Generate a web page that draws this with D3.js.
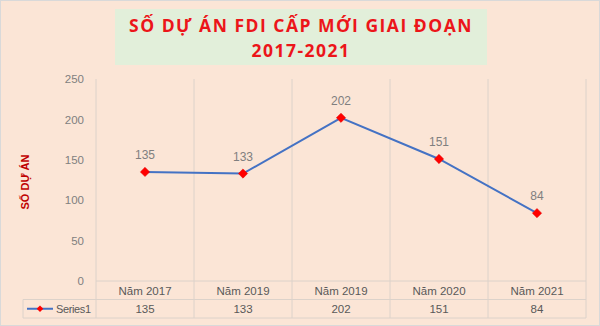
<!DOCTYPE html>
<html>
<head>
<meta charset="utf-8">
<script src="https://cdn.jsdelivr.net/npm/d3@7"></script>
<style>
  html, body { margin: 0; padding: 0; background: #fbe5d6; }
  svg { display: block; }
</style>
</head>
<body>
<script>
// Chart data
const categories = ["Năm 2017", "Năm 2019", "Năm 2019", "Năm 2020", "Năm 2021"];
const values = [135, 133, 202, 151, 84];
const yTicks = [0, 50, 100, 150, 200, 250];
const seriesName = "Series1";
const titleLines = ["SỐ DỰ ÁN FDI CẤP MỚI GIAI ĐOẠN", "2017-2021"];
const yTitle = "SỐ DỰ ÁN";

const W = 600, H = 326;
const plot = { left: 96, right: 586, top: 79, bottom: 281 };
const rowH = 18.5;
const legendLeft = 23;
const gridColor = "#dcd2ca";
const textGrey = "#7f7f7f";
const font = "'Liberation Sans', Arial, sans-serif";

const svg = d3.select("body").append("svg")
  .attr("width", W).attr("height", H)
  .style("font-family", font);

svg.append("rect").attr("x", 0.5).attr("y", 0.5).attr("width", W - 1).attr("height", H - 1)
  .attr("fill", "#fbe5d6").attr("stroke", "#d9d9d9");

// Title box
svg.append("rect").attr("x", 115).attr("y", 9).attr("width", 372).attr("height", 56)
  .attr("fill", "#e2efda");
const title = svg.append("text").attr("text-anchor", "middle")
  .attr("fill", "#ec1519").attr("font-weight", "bold")
  .attr("font-family", "'Open Sans', sans-serif").attr("font-size", 17.5)
  .style("letter-spacing", "1.5px");
titleLines.forEach((t, i) => {
  title.append("tspan").attr("x", 301).attr("y", 32 + i * 25).text(t);
});

// Scales
const x = d3.scaleBand().domain(d3.range(categories.length)).range([plot.left, plot.right]);
const y = d3.scaleLinear().domain([0, 250]).range([plot.bottom, plot.top]);

// Vertical grid lines (category boundaries), extended through the data table
const tableBottom = plot.bottom + 2 * rowH;
const bounds = d3.range(categories.length + 1).map(i => i < categories.length ? x(i) : plot.right);
svg.append("g").selectAll("line").data(bounds).join("line")
  .attr("x1", d => d).attr("x2", d => d)
  .attr("y1", plot.top).attr("y2", tableBottom)
  .attr("stroke", gridColor).attr("stroke-width", 1);

// Table horizontal rules
svg.append("line").attr("x1", plot.left).attr("x2", plot.right)
  .attr("y1", plot.bottom).attr("y2", plot.bottom).attr("stroke", gridColor);
[plot.bottom + rowH, tableBottom].forEach(yy => {
  svg.append("line").attr("x1", legendLeft).attr("x2", plot.right)
    .attr("y1", yy).attr("y2", yy).attr("stroke", gridColor);
});
svg.append("line").attr("x1", legendLeft).attr("x2", legendLeft)
  .attr("y1", plot.bottom + rowH).attr("y2", tableBottom).attr("stroke", gridColor);

// Y axis tick labels
const yAxis = d3.axisLeft(y).tickValues(yTicks).tickSize(0).tickPadding(0);
const gy = svg.append("g").attr("transform", `translate(${plot.left - 12},0)`).call(yAxis);
gy.select(".domain").remove();
gy.selectAll("text").attr("fill", textGrey).attr("font-size", 11.5).attr("font-family", font);

// Y axis title
svg.append("text")
  .attr("transform", `translate(29,182) rotate(-90)`)
  .attr("text-anchor", "middle")
  .attr("fill", "#c00000").attr("font-weight", "bold").attr("font-size", 11)
  .text(yTitle);

// Category row and value row of the data table
const cx = i => x(i) + x.bandwidth() / 2;
svg.append("g").selectAll("text").data(categories).join("text")
  .attr("x", (d, i) => cx(i)).attr("y", plot.bottom + 13.5)
  .attr("text-anchor", "middle").attr("fill", "#595959").attr("font-size", 11.5)
  .text(d => d);
svg.append("g").selectAll("text").data(values).join("text")
  .attr("x", (d, i) => cx(i)).attr("y", plot.bottom + rowH + 13.5)
  .attr("text-anchor", "middle").attr("fill", "#595959").attr("font-size", 11.5)
  .text(d => d);

// Legend key in the table
const ly = plot.bottom + rowH * 1.5;
svg.append("line").attr("x1", 27).attr("x2", 53).attr("y1", ly).attr("y2", ly)
  .attr("stroke", "#4472c4").attr("stroke-width", 2);
svg.append("path").attr("d", d3.symbol(d3.symbolDiamond2, 28)())
  .attr("transform", `translate(40,${ly})`).attr("fill", "#ff0000");
svg.append("text").attr("x", 56).attr("y", ly + 4).attr("fill", "#595959")
  .attr("font-size", 11).attr("textLength", 35).text(seriesName);

// Series line
const line = d3.line().x((d, i) => cx(i)).y(d => y(d));
svg.append("path").datum(values).attr("d", line)
  .attr("fill", "none").attr("stroke", "#4472c4").attr("stroke-width", 2);

// Markers
svg.append("g").selectAll("path").data(values).join("path")
  .attr("d", d3.symbol(d3.symbolDiamond2, 55)())
  .attr("transform", (d, i) => `translate(${cx(i)},${y(d)})`)
  .attr("fill", "#ff0000").attr("stroke", "#e00000").attr("stroke-width", 0.5);

// Data labels
svg.append("g").selectAll("text").data(values).join("text")
  .attr("x", (d, i) => cx(i)).attr("y", d => y(d) - 13)
  .attr("text-anchor", "middle").attr("fill", textGrey).attr("font-size", 12)
  .text(d => d);
</script>
</body>
</html>
